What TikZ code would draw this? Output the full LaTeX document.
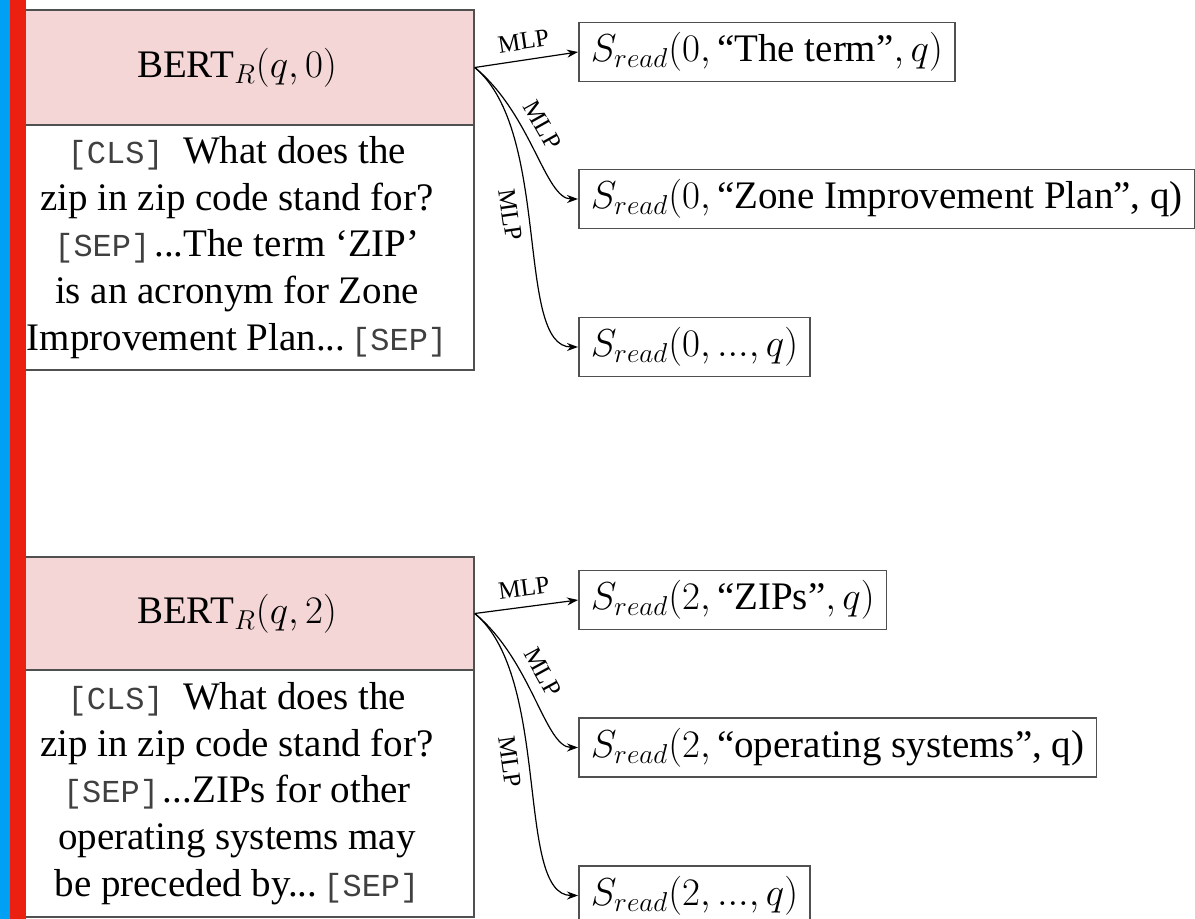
\RequirePackage{fix-cm}
\documentclass[tikz,border=0pt]{standalone}
\usepackage{amsmath}
\usepackage[no-math]{fontspec}
\setmainfont{Liberation Serif}
\setmonofont[Scale=0.82]{Liberation Mono}
\usetikzlibrary{arrows.meta}
\definecolor{pinkfill}{RGB}{245,214,214}
\definecolor{barblue}{RGB}{0,160,245}
\definecolor{barred}{RGB}{236,32,16}
\definecolor{edgegray}{RGB}{80,80,80}
\newcommand{\tokn}[1]{{\color{black!75}\ttfamily[#1]}}
\begin{document}
\begin{tikzpicture}[x=0.5pt,y=-0.5pt,
  headbox/.style={draw=edgegray, line width=0.75pt, fill=pinkfill, minimum width=237pt, inner sep=0pt, font=\fontsize{19.5}{23.3}\selectfont},
  ctxbox/.style={draw=edgegray, line width=0.75pt, fill=white, minimum width=237pt, inner sep=0pt, align=center, font=\fontsize{19.5}{23.3}\selectfont},
  outbox/.style={draw=edgegray, line width=0.75pt, fill=white, anchor=west, minimum height=29.5pt, inner xsep=6pt, inner ysep=0pt, font=\fontsize{19.5}{23}\selectfont},
  conn/.style={draw=black, line width=0.6pt, -{Stealth[length=5.5pt,width=4pt]}},
  mlp/.style={font=\fontsize{12.5}{14}\selectfont, inner xsep=1pt, inner ysep=5pt, sloped}
]
\useasboundingbox (0,0) rectangle (1195,919);

% top group
\node[headbox, minimum height=57.5pt] (h0) at (237,67.5) {BERT$_R(q,0)$};
\node[ctxbox, minimum height=122.5pt] (c0) at (237,247.5) {\tokn{CLS}\enskip What does the\\
zip in zip code stand for?\\
\tokn{SEP}\hspace{2pt}...The term `ZIP'\\
is an acronym for Zone\\
Improvement Plan...\hspace{3pt}\tokn{SEP}};

\node[outbox] (o1) at (578,52) {$S_{read}(0,\text{``The term''}, q)$};
\node[outbox] (o2) at (578,199) {$S_{read}(0,\text{``Zone Improvement Plan'', q)}$};
\node[outbox] (o3) at (578,347) {$S_{read}(0, ..., q)$};

\draw[conn] (h0.east) -- (o1.west) node[mlp, above, pos=0.5] (m1) {MLP};
\draw[conn] (h0.east) .. controls +(57,47) and +(-33,0) .. (o2.west) node[mlp, above, pos=0.4] (m2) {MLP};
\draw[conn] (h0.east) .. controls +(77,64) and +(-63,0) .. (o3.west) node[mlp, below, pos=0.45] (m3) {MLP};

% bottom group
\node[headbox, minimum height=56.5pt] (h2) at (237,613.5) {BERT$_R(q,2)$};
\node[ctxbox, minimum height=123.5pt] (c2) at (237,793.5) {\tokn{CLS}\enskip What does the\\
zip in zip code stand for?\\
\tokn{SEP}\hspace{2pt}...ZIPs for other\\
operating systems may\\
be preceded by...\hspace{3pt}\tokn{SEP}};

\node[outbox] (o4) at (578,600) {$S_{read}(2,\text{``ZIPs''}, q)$};
\node[outbox] (o5) at (578,747.5) {$S_{read}(2,\text{``operating systems'', q)}$};
\node[outbox] (o6) at (578,895.5) {$S_{read}(2, ..., q)$};

\draw[conn] (h2.east) -- (o4.west) node[mlp, above, pos=0.5] (m4) {MLP};
\draw[conn] (h2.east) .. controls +(57,47) and +(-33,0) .. (o5.west) node[mlp, above, pos=0.4] (m5) {MLP};
\draw[conn] (h2.east) .. controls +(77,64) and +(-63,0) .. (o6.west) node[mlp, below, pos=0.45] (m6) {MLP};

% side bars
\fill[barblue] (0,0) rectangle (10,919);
\fill[barred] (10,0) rectangle (26,919);
\end{tikzpicture}
\end{document}
